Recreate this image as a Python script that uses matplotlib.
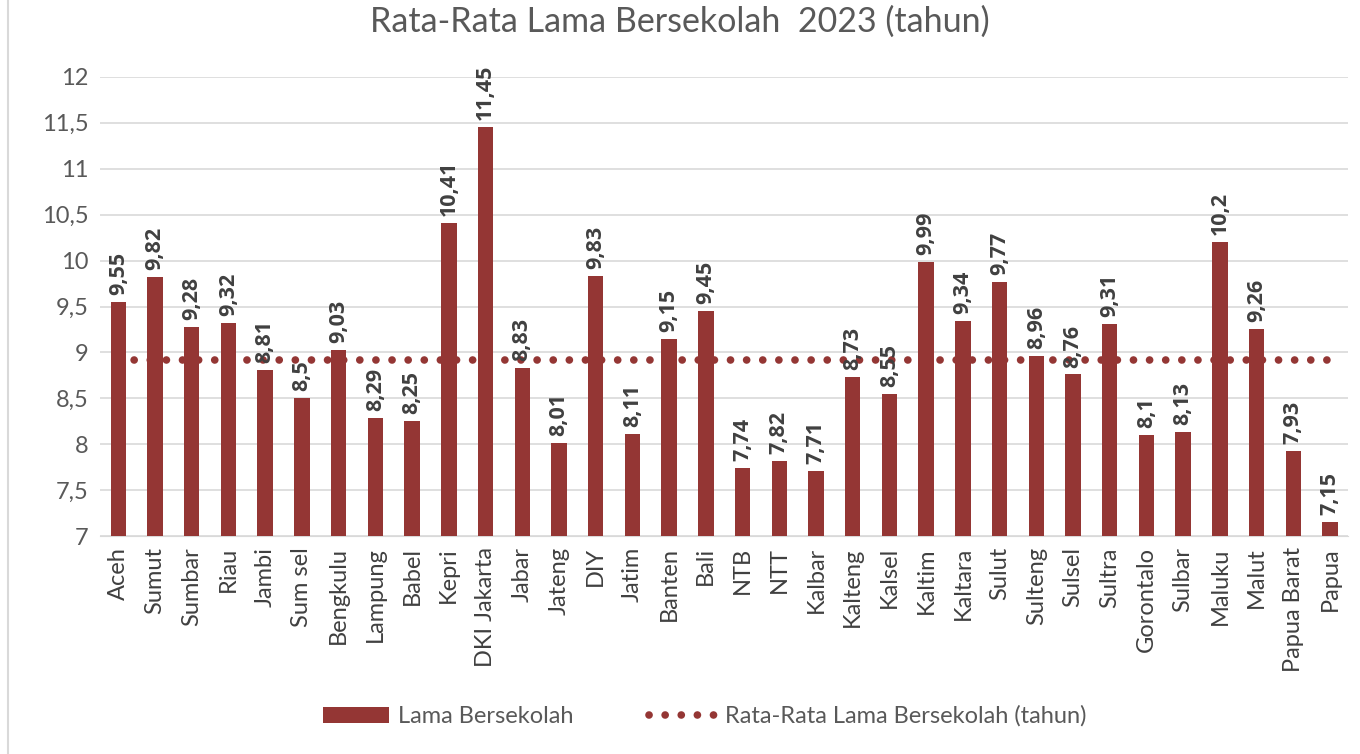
import matplotlib.pyplot as plt
import numpy as np

provinsi = ["Aceh", "Sumut", "Sumbar", "Riau", "Jambi", "Sum sel", "Bengkulu", "Lampung",
            "Babel", "Kepri", "DKI Jakarta", "Jabar", "Jateng", "DIY", "Jatim", "Banten",
            "Bali", "NTB", "NTT", "Kalbar", "Kalteng", "Kalsel", "Kaltim", "Kaltara",
            "Sulut", "Sulteng", "Sulsel", "Sultra", "Gorontalo", "Sulbar", "Maluku",
            "Malut", "Papua Barat", "Papua"]
lama_sekolah = [9.55, 9.82, 9.28, 9.32, 8.81, 8.5, 9.03, 8.29, 8.25, 10.41, 11.45, 8.83,
                8.01, 9.83, 8.11, 9.15, 9.45, 7.74, 7.82, 7.71, 8.73, 8.55, 9.99, 9.34,
                9.77, 8.96, 8.76, 9.31, 8.1, 8.13, 10.2, 9.26, 7.93, 7.15]
rata_rata = 8.92
y_ticks = [7, 7.5, 8, 8.5, 9, 9.5, 10, 10.5, 11, 11.5, 12]

plt.rcParams['font.family'] = ['Lato', 'DejaVu Sans']
merah = '#943634'

fig = plt.figure(figsize=(13.6, 7.54), dpi=100)
ax = fig.add_axes([0.0735, 0.289, 0.918, 0.609])

x = np.arange(len(provinsi))
bars = ax.bar(x, [v - 7 for v in lama_sekolah], bottom=7, width=0.42, color=merah,
              label='Lama Bersekolah', zorder=3)
garis, = ax.plot(x, [rata_rata] * len(x), color=merah, linestyle=(0, (0.01, 2.1)), linewidth=5.5,
                 dash_capstyle='round', label='Rata-Rata Lama Bersekolah (tahun)', zorder=4)

for xi, v in zip(x, lama_sekolah):
    ax.annotate(f"{v:g}".replace('.', ','), (xi, v), xytext=(0, 5), textcoords='offset points',
                rotation=90, ha='center', va='bottom', fontsize=15.5, fontweight='bold',
                family=['Open Sans', 'DejaVu Sans'], color='#404040', zorder=5)

ax.set_xlim(-0.5, len(provinsi) - 0.5)
ax.set_ylim(7, 12)
ax.set_yticks(y_ticks)
ax.set_yticklabels([f"{t:g}".replace('.', ',') for t in y_ticks], fontsize=17, color='#595959')
ax.set_xticks(x)
ax.set_xticklabels(provinsi, rotation=90, fontsize=17, color='#404040')
ax.tick_params(length=0, pad=8)
ax.grid(axis='y', color='#d9d9d9', linewidth=1.2, zorder=0)
for s in ['top', 'right', 'left']:
    ax.spines[s].set_visible(False)
ax.spines['bottom'].set_color('#d9d9d9')

fig.suptitle('Rata-Rata Lama Bersekolah  2023 (tahun)', y=0.992, fontsize=24.5, color='#595959')

fig.legend([bars, garis], ['Lama Bersekolah', 'Rata-Rata Lama Bersekolah (tahun)'],
           loc='center', bbox_to_anchor=(0.518, 0.05), ncol=2, frameon=False,
           fontsize=17, handlelength=2.8, handletextpad=0.4, columnspacing=3.2,
           labelcolor='#595959')

fig.patches.append(plt.Rectangle((0.006, -0.01), 1.1, 1.1, transform=fig.transFigure,
                                 fill=False, edgecolor='#d9d9d9', linewidth=1.5))

fig.savefig('out.png', dpi=100)
